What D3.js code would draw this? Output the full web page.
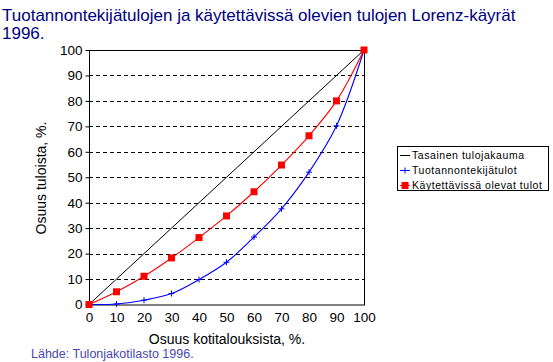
<!DOCTYPE html>
<meta charset="utf-8" />
<html>
<head>
<title>Lorenz-käyrät 1996</title>
<script src="https://cdn.jsdelivr.net/npm/d3@7"></script>
<style>
body { margin: 0; background: #fff; }
svg { font-family: Arial, "Liberation Sans", sans-serif; }
</style>
</head>
<body>
<div id="viz"></div>
<script>

// osuus kotitalouksista (x) ja osuus tuloista (y)
var households = [0, 10, 20, 30, 40, 50, 60, 70, 80, 90, 100];
var equal = [0, 10, 20, 30, 40, 50, 60, 70, 80, 90, 100];
var factorIncome = [0, 0.2, 1.7, 4.3, 9.8, 16.6, 26.5, 37.6, 52.0, 70.2, 100];
var disposable = [0, 5.0, 11.1, 18.3, 26.3, 34.8, 44.3, 54.8, 66.3, 80.0, 100];
var ticks = [0, 10, 20, 30, 40, 50, 60, 70, 80, 90, 100];
var legendLabels = ["Tasainen tulojakauma", "Tuotannontekijätulot", "Käytettävissä olevat tulot"];

var width = 553, height = 362;
var svg = d3.select("#viz").append("svg")
    .attr("width", width)
    .attr("height", height);

var x = d3.scaleLinear().domain([0, 100]).range([89, 364]);
var y = d3.scaleLinear().domain([0, 100]).range([304.5, 50]);

// otsikko
svg.append("text").attr("x", 2).attr("y", 21)
  .style("font-size", "17px").style("fill", "#000080")
  .text("Tuotannontekijätulojen ja käytettävissä olevien tulojen Lorenz-käyrät");
svg.append("text").attr("x", 2).attr("y", 39)
  .style("font-size", "17px").style("fill", "#000080")
  .text("1996.");

// vaakaviivat
svg.selectAll("line.grid")
  .data(ticks.slice(1, -1))
  .enter().append("line")
  .attr("class", "grid")
  .attr("x1", x(0)).attr("x2", x(100))
  .attr("y1", function(d) { return Math.round(y(d)) + 0.5; })
  .attr("y2", function(d) { return Math.round(y(d)) + 0.5; })
  .style("stroke", "#000").style("stroke-dasharray", "4,3");

// akselit
var yAxis = d3.axisLeft(y).tickValues(ticks).tickSize(4).tickSizeOuter(0);
var gy = svg.append("g").attr("transform", "translate(" + (x(0) + 0.5) + ",0)").call(yAxis);
var xAxis = d3.axisBottom(x).tickValues(ticks).tickSize(0).tickSizeOuter(0).tickPadding(7);
var gx = svg.append("g").attr("transform", "translate(0," + (y(0) + 0.5) + ")").call(xAxis);
[gy, gx].forEach(function(g) {
  g.selectAll("text").style("font-size", "13.5px").style("fill", "#000").attr("font-family", null);
  g.select(".domain").remove();
});

svg.append("rect")
  .attr("x", x(0) + 0.5).attr("y", y(100) + 0.5)
  .attr("width", x(100) - x(0)).attr("height", y(0) - y(100))
  .style("fill", "none").style("stroke", "#000");

// käyrät
var pts = function(vals) { return households.map(function(h, i) { return [x(h), y(vals[i])]; }); };
var straight = d3.line();
var smooth = d3.line().curve(d3.curveCatmullRom.alpha(0.5));

svg.append("path").attr("d", straight(pts(equal)))
  .style("fill", "none").style("stroke", "#000").style("stroke-width", 1);
svg.append("path").attr("d", smooth(pts(factorIncome)))
  .style("fill", "none").style("stroke", "#0000ff").style("stroke-width", 1.1);
svg.append("path").attr("d", smooth(pts(disposable)))
  .style("fill", "none").style("stroke", "#ff0000").style("stroke-width", 1.1);

// merkit
svg.selectAll("path.cross")
  .data(pts(factorIncome))
  .enter().append("path")
  .attr("class", "cross")
  .attr("d", function(d) { return "M" + (d[0] - 3) + "," + d[1] + "h6M" + d[0] + "," + (d[1] - 3) + "v6"; })
  .style("stroke", "#0000ff").style("stroke-width", 1);
svg.selectAll("rect.sq")
  .data(pts(disposable))
  .enter().append("rect")
  .attr("class", "sq")
  .attr("x", function(d) { return d[0] - 3.5; })
  .attr("y", function(d) { return d[1] - 3.5; })
  .attr("width", 7).attr("height", 7)
  .style("fill", "#ff0000");

// akselien otsikot
svg.append("text").attr("x", 227).attr("y", 344).attr("text-anchor", "middle")
  .style("font-size", "14px").text("Osuus kotitalouksista, %.");
svg.append("text").attr("transform", "translate(46,178) rotate(-90)").attr("text-anchor", "middle")
  .style("font-size", "14px").text("Osuus tuloista, %.");
svg.append("text").attr("x", 31).attr("y", 358)
  .style("font-size", "12.5px").style("fill", "#4848b0").text("Lähde: Tulonjakotilasto 1996.");

// selite
var lg = svg.append("g");
lg.append("rect").attr("x", 397.5).attr("y", 146.5).attr("width", 151).attr("height", 44)
  .style("fill", "#fff").style("stroke", "#000");
var rows = lg.selectAll("g.row")
  .data(legendLabels)
  .enter().append("g")
  .attr("class", "row")
  .attr("transform", function(d, i) { return "translate(400," + (155 + i * 15) + ")"; });
rows.append("text").attr("x", 12).attr("y", 4)
  .style("font-size", "10.5px").style("letter-spacing", "0.55px").text(function(d) { return d; });
rows.filter(function(d, i) { return i == 0; }).append("line")
  .attr("x1", 0).attr("x2", 10).attr("y1", 0.5).attr("y2", 0.5).style("stroke", "#000");
rows.filter(function(d, i) { return i == 1; }).append("path")
  .attr("d", "M0,0.5h10M5,-2.5v6").style("stroke", "#0000ff");
rows.filter(function(d, i) { return i == 2; }).append("rect")
  .attr("x", 1.5).attr("y", -3).attr("width", 7).attr("height", 7).style("fill", "#ff0000");
rows.filter(function(d, i) { return i == 2; }).append("line")
  .attr("x1", 0).attr("x2", 10).attr("y1", 0.5).attr("y2", 0.5).style("stroke", "#ff0000");

</script>
</body>
</html>
